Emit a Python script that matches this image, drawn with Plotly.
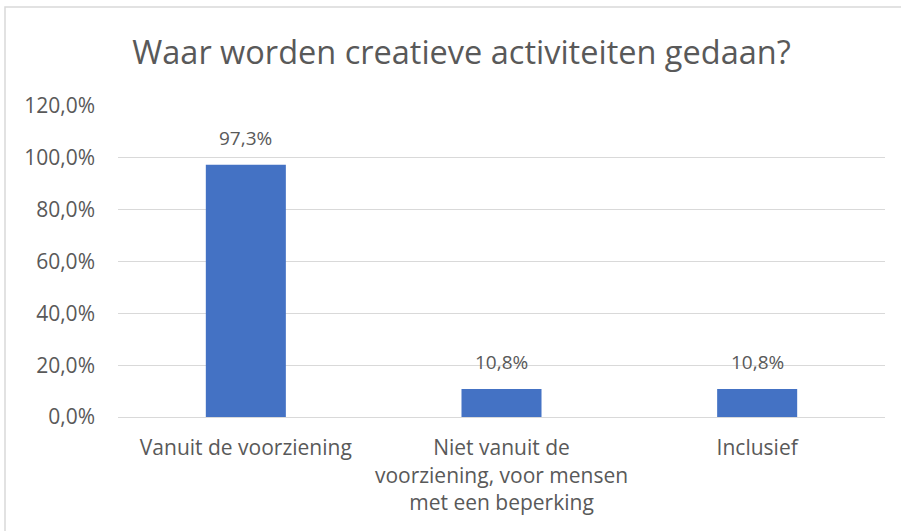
import plotly.graph_objects as go

categories = ["Vanuit de voorziening",
              "Niet vanuit de<br>voorziening, voor mensen<br>met een beperking",
              "Inclusief"]
values = [0.973, 0.108, 0.108]
tick_vals = [0, 0.2, 0.4, 0.6, 0.8, 1.0, 1.2]
title_text = "Waar worden creatieve activiteiten gedaan?"

FONT = "'Open Sans', sans-serif"
GREY = "#595959"

fig = go.Figure(go.Bar(
    x=categories, y=values,
    marker=dict(color="#4472C4", line=dict(width=0)),
    cliponaxis=False,
))

for c, v in zip(categories, values):
    fig.add_annotation(x=c, y=v, xref="x", yref="y",
                       text=f"{v*100:.1f}%".replace(".", ","),
                       showarrow=False, yanchor="bottom", yshift=12,
                       font=dict(family=FONT, size=19, color=GREY))

l, r, t, b = 118, 16, 106, 114
pw, ph = 901 - l - r, 531 - t - b

def px_x(p):
    return (p - l) / pw

def px_y(p):
    return (531 - b - p) / ph

fig.update_layout(
    width=901, height=531,
    margin=dict(l=l, r=r, t=t, b=b),
    paper_bgcolor="white", plot_bgcolor="white",
    separators=",.",
    bargap=0.687,
    showlegend=False,
    title=dict(text=title_text, x=461.5 / 901, xanchor="center",
               y=1 - 53 / 531, yanchor="middle",
               font=dict(family=FONT, size=32.5, color=GREY)),
    xaxis=dict(showline=True, linecolor="#D9D9D9", linewidth=1,
               ticks="", tickfont=dict(family=FONT, size=21, color=GREY),
               showgrid=False, ticklabelstandoff=12),
    yaxis=dict(range=[0, 1.2], tickvals=tick_vals, tickformat=".1%",
               showgrid=True, gridcolor="#D9D9D9", gridwidth=1,
               zeroline=False, showline=False, ticks="",
               tickfont=dict(family=FONT, size=21, color=GREY),
               ticklabelstandoff=22),
    shapes=[dict(type="rect", xref="paper", yref="paper",
                 x0=px_x(5), x1=px_x(906), y0=px_y(536), y1=px_y(7),
                 line=dict(color="#D9D9D9", width=1.5), layer="below")],
)

fig.write_html("out.html")
